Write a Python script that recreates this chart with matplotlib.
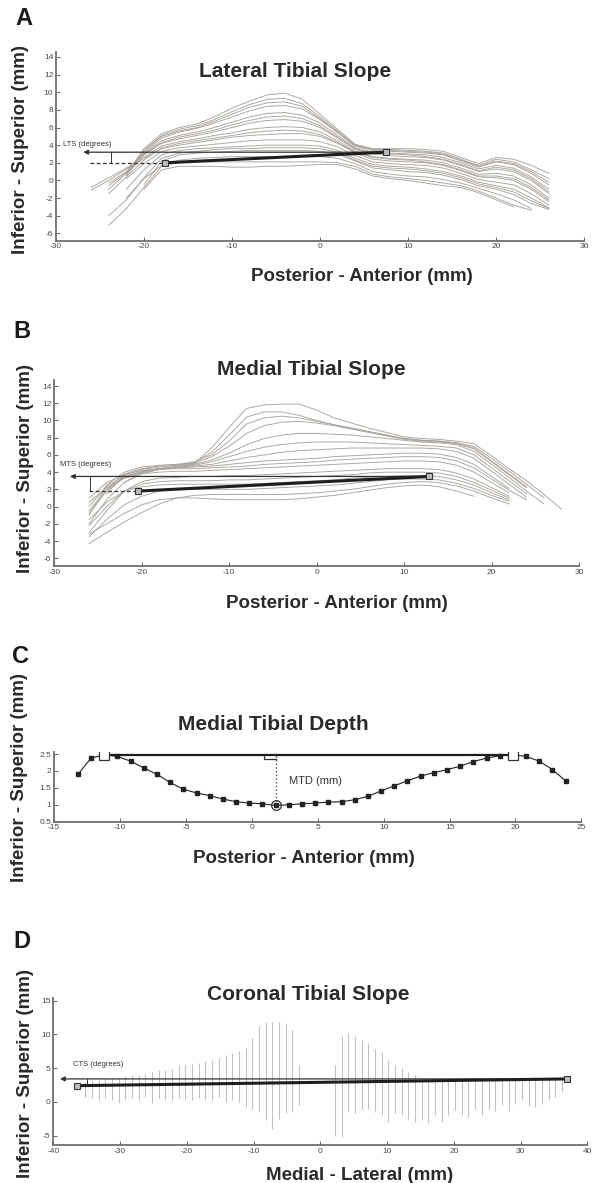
import numpy as np
import matplotlib
matplotlib.use("Agg")
import matplotlib.pyplot as plt

plt.rcParams['font.family'] = ['Liberation Sans', 'DejaVu Sans']
plt.rcParams['axes.unicode_minus'] = False

W, H = 594, 1183
nan = np.nan

# ---- A: lateral tibial slope, sagittal profiles (mm) ----
a_x = [-26, -24, -22, -20, -18, -16, -14, -12, -10, -8, -6, -4, -2, 0,
       2, 4, 6, 8, 10, 12, 14, 16, 18, 20, 22, 24, 26]
a_curves = [
    [nan, nan, 0.8, 3.6, 5.3, 6.0, 6.4, 7.2, 8.2, 9.0, 9.7, 9.9, 9.2, 7.5, 5.8, 4.1, 3.6, 3.6, 3.6, 3.5, 3.3, 2.6, 1.9, 2.6, 2.4, 1.7, 0.8],
    [nan, nan, 0.5, 3.4, 5.1, 5.8, 6.2, 6.9, 7.8, 8.6, 9.2, 9.3, 8.7, 7.2, 5.6, 4.0, 3.5, 3.5, 3.4, 3.3, 3.1, 2.4, 1.7, 2.4, 2.1, 1.2, 0.2],
    [nan, -0.3, 1.0, 3.3, 5.0, 5.6, 6.0, 6.7, 7.5, 8.3, 8.8, 8.9, 8.4, 7.0, 5.5, 3.9, 3.5, 3.4, 3.3, 3.2, 3.0, 2.3, 1.6, 2.2, 1.9, 1.0, -0.2],
    [nan, -1.0, 0.8, 3.1, 4.8, 5.5, 5.9, 6.5, 7.2, 7.9, 8.4, 8.5, 8.1, 6.9, 5.4, 3.9, 3.4, 3.3, 3.2, 3.1, 2.9, 2.2, 1.5, 2.1, 1.8, 0.8, -0.5],
    [nan, nan, 1.0, 3.0, 4.5, 5.1, 5.5, 6.0, 6.6, 7.2, 7.6, 7.7, 7.4, 6.5, 5.1, 3.7, 3.2, 3.1, 3.0, 2.9, 2.6, 2.0, 1.3, 1.7, 1.4, 0.4, -1.0],
    [nan, nan, 0.6, 2.9, 4.3, 4.9, 5.3, 5.7, 6.3, 6.8, 7.2, 7.3, 7.0, 6.2, 4.9, 3.6, 3.1, 3.0, 2.9, 2.7, 2.4, 1.8, 1.1, 1.5, 1.2, 0.2, -1.3],
    [-1.1, 0.0, 1.3, 2.9, 4.2, 4.7, 5.1, 5.5, 6.0, 6.5, 6.8, 6.9, 6.7, 6.0, 4.8, 3.5, 3.0, 2.8, 2.7, 2.6, 2.3, 1.7, 1.0, 1.3, 1.0, 0.0, -1.5],
    [nan, -0.6, 0.9, 2.6, 3.9, 4.4, 4.7, 5.1, 5.4, 5.8, 6.0, 6.1, 6.0, 5.5, 4.5, 3.3, 2.7, 2.5, 2.4, 2.3, 2.0, 1.4, 0.7, 0.8, 0.5, -0.5, -2.0],
    [nan, -1.5, 0.4, 2.3, 3.7, 4.2, 4.5, 4.8, 5.1, 5.4, 5.6, 5.7, 5.6, 5.2, 4.3, 3.2, 2.6, 2.4, 2.3, 2.1, 1.8, 1.2, 0.5, 0.5, 0.2, -0.8, -2.2],
    [-0.8, 0.3, 1.4, 2.5, 3.6, 4.0, 4.3, 4.6, 4.9, 5.1, 5.2, 5.3, 5.3, 5.0, 4.2, 3.1, 2.4, 2.2, 2.1, 2.0, 1.7, 1.1, 0.4, 0.3, 0.0, -1.0, -2.4],
    [nan, nan, 0.2, 1.9, 3.3, 3.7, 3.9, 4.1, 4.3, 4.5, 4.6, 4.6, 4.6, 4.4, 3.8, 2.8, 2.1, 1.9, 1.8, 1.7, 1.4, 0.8, 0.1, -0.2, -0.5, -1.5, -2.8],
    [nan, nan, -1.0, 1.2, 2.9, 3.4, 3.6, 3.7, 3.8, 3.9, 4.0, 4.0, 4.0, 3.9, 3.4, 2.5, 1.8, 1.6, 1.5, 1.3, 1.0, 0.5, -0.2, -0.6, -1.0, -2.0, -3.1],
    [nan, -4.0, -2.2, 0.3, 2.5, 3.1, 3.3, 3.5, 3.6, 3.6, 3.7, 3.7, 3.7, 3.6, 3.2, 2.3, 1.6, 1.4, 1.3, 1.1, 0.8, 0.3, -0.4, -0.8, -1.3, -2.3, -3.2],
    [nan, nan, nan, -0.5, 2.2, 2.9, 3.1, 3.2, 3.3, 3.4, 3.4, 3.4, 3.4, 3.3, 3.0, 2.2, 1.4, 1.2, 1.0, 0.9, 0.6, 0.1, -0.6, -1.0, -1.6, -2.6, -3.3],
    [nan, -5.1, -3.2, -0.8, 1.6, 2.3, 2.5, 2.6, 2.7, 2.7, 2.7, 2.7, 2.7, 2.7, 2.5, 1.9, 1.0, 0.7, 0.5, 0.4, 0.1, -0.3, -0.9, -1.5, -2.2, -3.2, nan],
    [nan, nan, -2.0, 0.2, 1.7, 2.0, 2.1, 2.1, 2.1, 2.1, 2.1, 2.1, 2.1, 2.1, 2.0, 1.6, 0.7, 0.4, 0.2, 0.0, -0.3, -0.6, -1.2, -2.0, -2.8, -3.4, nan],
    [nan, nan, nan, -1.0, 1.2, 1.6, 1.6, 1.6, 1.5, 1.5, 1.6, 1.6, 1.7, 1.8, 1.8, 1.3, 0.5, 0.2, 0.0, -0.3, -0.6, -0.8, -1.4, -2.2, -3.0, nan, nan],
]
a_post = (-17.6, 2.0)
a_ant = (7.5, 3.2)

# ---- B: medial tibial slope, sagittal profiles (mm) ----
b_x = [-26, -24, -22, -20, -18, -16, -14, -12, -10, -8, -6, -4, -2, 0,
       2, 4, 6, 8, 10, 12, 14, 16, 18, 20, 22, 24, 26, 28]
b_curves = [
    [-1.0, 2.5, 4.0, 4.6, 4.8, 4.9, 5.0, 6.8, 9.2, 11.4, 11.8, 11.9, 11.9, 11.2, 10.3, 9.7, 9.1, 8.6, 8.1, 7.9, 7.8, 7.6, 7.3, 5.9, 4.4, 3.0, 1.4, -0.3],
    [nan, 1.5, 3.6, 4.3, 4.6, 4.8, 5.1, 6.3, 8.3, 10.4, 11.0, 11.0, 10.6, 10.0, 9.5, 9.1, 8.7, 8.3, 7.9, 7.7, 7.6, 7.4, 7.0, 5.6, 4.1, 2.6, 1.0, nan],
    [nan, 2.0, 3.8, 4.4, 4.7, 4.9, 5.2, 6.0, 7.6, 9.6, 10.3, 10.5, 10.3, 9.9, 9.5, 9.1, 8.7, 8.3, 7.9, 7.7, 7.6, 7.4, 6.8, 5.3, 3.8, 2.3, nan, nan],
    [nan, nan, 2.8, 3.9, 4.4, 4.7, 5.0, 5.8, 7.0, 8.5, 9.4, 9.8, 9.9, 9.7, 9.4, 9.0, 8.6, 8.2, 7.8, 7.6, 7.5, 7.3, 6.7, 5.2, 3.7, 2.2, nan, nan],
    [-2.0, 0.8, 2.8, 3.8, 4.3, 4.6, 4.9, 5.4, 6.2, 7.2, 7.9, 8.3, 8.5, 8.5, 8.4, 8.3, 8.1, 7.9, 7.7, 7.5, 7.4, 7.2, 6.4, 4.9, 3.4, 1.8, 0.3, nan],
    [0.5, 2.2, 3.3, 4.0, 4.4, 4.6, 4.8, 5.2, 5.8, 6.4, 6.9, 7.2, 7.4, 7.5, 7.5, 7.5, 7.4, 7.3, 7.2, 7.1, 7.0, 6.8, 6.0, 4.5, 3.0, 1.5, nan, nan],
    [-0.8, 1.8, 3.4, 4.1, 4.4, 4.6, 4.7, 4.9, 5.3, 5.7, 6.0, 6.3, 6.5, 6.6, 6.7, 6.8, 6.8, 6.8, 6.8, 6.8, 6.7, 6.4, 5.6, 4.1, 2.6, 1.1, nan, nan],
    [0.0, 2.4, 3.5, 4.0, 4.3, 4.4, 4.4, 4.5, 4.6, 4.7, 4.9, 5.0, 5.1, 5.2, 5.4, 5.5, 5.6, 5.7, 5.8, 5.8, 5.7, 5.3, 4.5, 3.2, 1.9, 0.8, nan, nan],
    [1.0, 2.8, 3.7, 4.2, 4.4, 4.5, 4.6, 4.7, 4.9, 5.1, 5.3, 5.4, 5.5, 5.6, 5.8, 5.9, 6.0, 6.1, 6.2, 6.2, 6.1, 5.7, 4.9, 3.5, 2.1, nan, nan, nan],
    [-0.5, 2.0, 3.3, 3.8, 4.0, 4.1, 4.1, 4.2, 4.3, 4.4, 4.5, 4.6, 4.7, 4.8, 4.9, 5.0, 5.1, 5.2, 5.3, 5.3, 5.2, 4.8, 4.0, 2.8, 1.6, nan, nan, nan],
    [-3.0, -0.5, 1.8, 2.9, 3.3, 3.4, 3.5, 3.5, 3.6, 3.6, 3.7, 3.8, 3.9, 4.0, 4.1, 4.2, 4.3, 4.4, 4.4, 4.4, 4.3, 3.9, 3.2, 2.2, 1.2, nan, nan, nan],
    [-2.2, 0.0, 1.8, 2.6, 2.9, 3.0, 3.0, 3.0, 3.1, 3.1, 3.2, 3.3, 3.4, 3.5, 3.6, 3.7, 3.9, 4.0, 4.0, 4.0, 3.9, 3.5, 2.8, 1.9, 1.0, nan, nan, nan],
    [-1.5, 0.5, 1.8, 2.3, 2.5, 2.6, 2.6, 2.6, 2.6, 2.6, 2.7, 2.8, 2.9, 3.0, 3.1, 3.3, 3.4, 3.5, 3.6, 3.6, 3.5, 3.1, 2.5, 1.6, 0.8, nan, nan, nan],
    [-3.5, -1.5, 0.2, 1.2, 1.8, 2.0, 2.0, 2.0, 2.0, 2.0, 2.1, 2.2, 2.3, 2.4, 2.5, 2.7, 2.9, 3.1, 3.2, 3.2, 3.1, 2.7, 2.1, 1.3, 0.6, nan, nan, nan],
    [-4.3, -3.0, -1.8, -0.7, 0.3, 1.0, 1.3, 1.4, 1.4, 1.4, 1.4, 1.4, 1.5, 1.6, 1.8, 2.0, 2.3, 2.6, 2.8, 2.9, 2.8, 2.4, 1.8, 1.0, 0.3, nan, nan, nan],
    [-3.2, -2.0, -0.8, 0.2, 0.8, 1.0, 1.0, 0.9, 0.8, 0.8, 0.8, 0.8, 0.9, 1.1, 1.3, 1.6, 1.9, 2.2, 2.4, 2.5, 2.3, 1.8, 1.2, nan, nan, nan, nan, nan],
]
b_post = (-20.4, 1.8)
b_ant = (12.9, 3.5)

# ---- C: medial tibial depth (mm) ----
c_x = [-13.2, -12.2, -11.2, -10.2, -9.2, -8.2, -7.2, -6.2, -5.2, -4.2, -3.2,
       -2.2, -1.2, -0.2, 0.8, 1.8, 2.8, 3.8, 4.8, 5.8, 6.8, 7.8, 8.8, 9.8,
       10.8, 11.8, 12.8, 13.8, 14.8, 15.8, 16.8, 17.8, 18.8, 19.8, 20.8,
       21.8, 22.8, 23.8]
c_y = [1.90, 2.38, 2.48, 2.43, 2.29, 2.09, 1.90, 1.66, 1.46, 1.35, 1.27,
       1.17, 1.09, 1.05, 1.03, 0.98, 1.00, 1.03, 1.05, 1.08, 1.09, 1.15,
       1.25, 1.41, 1.56, 1.71, 1.85, 1.95, 2.04, 2.14, 2.28, 2.38, 2.45,
       2.48, 2.43, 2.29, 2.04, 1.71]
c_rim_idx = (2, 33)
c_low_idx = 15

# ---- D: coronal tibial slope, range per coronal slice (mm) ----
d_x = [-35.2, -34.2, -33.2, -32.2, -31.2, -30.2, -29.2, -28.2, -27.2, -26.2,
       -25.2, -24.2, -23.2, -22.2, -21.2, -20.2, -19.2, -18.2, -17.2, -16.2,
       -15.2, -14.2, -13.2, -12.2, -11.2, -10.2, -9.2, -8.2, -7.2, -6.2,
       -5.2, -4.2, -3.2,
       2.2, 3.2, 4.2, 5.2, 6.2, 7.2, 8.2, 9.2, 10.2, 11.2, 12.2, 13.2, 14.2,
       15.2, 16.2, 17.2, 18.2, 19.2, 20.2, 21.2, 22.2, 23.2, 24.2, 25.2,
       26.2, 27.2, 28.2, 29.2, 30.2, 31.2, 32.2, 33.2, 34.2, 35.2, 36.2]
d_top = [3.0, 3.2, 3.3, 3.5, 3.6, 3.6, 3.8, 4.0, 4.0, 4.2, 4.5, 4.7, 4.7,
         4.8, 5.5, 5.5, 5.6, 5.8, 6.0, 6.2, 6.5, 7.0, 7.3, 7.5, 8.0, 9.4,
         11.2, 11.9, 11.9, 11.8, 11.7, 10.7, 5.5,
         5.5, 9.7, 10.2, 9.7, 9.2, 8.7, 7.9, 7.4, 6.2, 5.5, 5.0, 4.5, 4.0,
         3.5, 3.5, 3.2, 3.2, 3.2, 3.3, 3.2, 3.2, 3.3, 3.5, 3.6, 3.6, 3.6,
         3.6, 3.6, 3.6, 3.5, 3.7, 3.6, 3.6, 3.5, 3.2]
d_bottom = [0.7, 0.5, 0.2, 0.5, 0.2, -0.1, 0.2, 0.5, 0.2, 0.7, -0.2, 0.5,
            0.2, 0.2, 0.5, 0.2, 0.2, 0.5, 0.2, 0.2, 0.7, 0.0, 0.2, 0.0, -0.8,
            -1.0, -1.5, -2.7, -4.0, -2.5, -1.7, -1.5, -0.5,
            -5.0, -5.2, -1.5, -1.7, -1.0, -1.0, -1.5, -2.0, -3.0, -1.7, -2.0,
            -2.5, -3.0, -2.7, -3.2, -2.0, -3.0, -2.0, -1.2, -2.0, -2.2, -1.0,
            -2.0, -1.0, -1.3, -0.5, -1.3, -0.3, 0.2, -0.5, -0.8, -0.3, 0.2,
            0.7, 1.5]
d_med = (-36.4, 2.4)
d_lat = (36.9, 3.4)

CURVE = '#a9a39d'
DARK = '#1e1e1e'
AXC = '#6e6e6e'


def px_rect(left, top, right, bottom):
    return [left / W, 1 - bottom / H, (right - left) / W, (bottom - top) / H]


def fig_text(fig, x, y, s, **kw):
    fig.text(x / W, 1 - y / H, s, ha='center', va='center', **kw)


def style(ax, xlim, ylim, xt, yt, ytl=None):
    ax.set_xlim(xlim)
    ax.set_ylim(ylim)
    for s in ('top', 'right'):
        ax.spines[s].set_visible(False)
    for s in ('left', 'bottom'):
        ax.spines[s].set_color(AXC)
        ax.spines[s].set_linewidth(1.3)
    ax.set_xticks(xt)
    ax.set_yticks(yt)
    if ytl is not None:
        ax.set_yticklabels(ytl)
    ax.tick_params(direction='in', length=3, width=0.8, colors=AXC,
                   labelsize=6, labelcolor='#4a4a4a', pad=2)
    ax.patch.set_alpha(0)


def angle_marks(ax, p0, p1, tip_x, dash_x, bar_x, label, label_xy):
    # horizontal reference line with arrow, pointing posterior
    ax.annotate('', xy=(tip_x, p1[1]), xytext=(p1[0], p1[1]),
                arrowprops=dict(arrowstyle='-|>', color='#333333', lw=0.9,
                                mutation_scale=7, shrinkA=0, shrinkB=0))
    ax.plot([dash_x, p0[0]], [p0[1], p0[1]], ls=(0, (3, 2)), color='#333333', lw=0.9)
    ax.plot([bar_x, bar_x], [p0[1], p1[1]], color='#333333', lw=0.7)
    ax.plot([p0[0], p1[0]], [p0[1], p1[1]], color=DARK, lw=2.2, zorder=4)
    ax.plot([p0[0], p1[0]], [p0[1], p1[1]], 's', ms=5, mfc='#bdbdbd',
            mec='#333333', mew=0.8, zorder=5)
    ax.text(label_xy[0], label_xy[1], label, fontsize=5.5, color='#333333',
            va='bottom')


fig = plt.figure(figsize=(W / 100, H / 100), dpi=100)

# Panel A
axA = fig.add_axes(px_rect(56, 51.7, 584, 240.7))
for c in a_curves:
    axA.plot(a_x, c, color=CURVE, lw=0.65, zorder=1)
angle_marks(axA, a_post, a_ant, -26.9, -26.1, -23.7, 'LTS (degrees)', (-29.2, 3.7))
style(axA, (-30, 30), (-6.84, 14.6), range(-30, 31, 10), range(-6, 15, 2))

# Panel B
axB = fig.add_axes(px_rect(54.2, 380, 579, 566))
for c in b_curves:
    axB.plot(b_x, c, color=CURVE, lw=0.65, zorder=1)
angle_marks(axB, b_post, b_ant, -28.2, -26.0, -25.9, 'MTS (degrees)', (-29.3, 4.5))
style(axB, (-30, 30), (-6.9, 14.7), range(-30, 31, 10), range(-6, 15, 2))

# Panel C
axC = fig.add_axes(px_rect(54.2, 751.7, 581.4, 821.7))
axC.plot(c_x, c_y, color='#222222', lw=0.8, marker='s', ms=3, zorder=2)
r0, r1 = c_rim_idx
rim_y = c_y[r0]
axC.plot([c_x[r0], c_x[r1]], [rim_y, rim_y], color=DARK, lw=1.6, zorder=3)
axC.plot([c_x[r0], c_x[r1]], [c_y[r0], c_y[r1]], 's', ms=6.5, mfc='white',
         mec='#333333', mew=0.9, zorder=4)
lx, ly = c_x[c_low_idx], c_y[c_low_idx]
axC.plot([lx, lx], [ly, rim_y], ls=':', color='#444444', lw=1.0, zorder=3)
axC.plot([lx - 0.9, lx - 0.9, lx], [rim_y, rim_y - 0.14, rim_y - 0.14],
         color='#333333', lw=0.9, zorder=3)
axC.plot([lx], [ly], 'o', ms=7, mfc='none', mec='#333333', mew=0.9, zorder=4)
axC.text(lx + 1.0, 1.70, 'MTD (mm)', fontsize=8, color='#333333', va='center')
style(axC, (-15, 25), (0.5, 2.57), range(-15, 26, 5), [0.5, 1, 1.5, 2, 2.5],
      ['0.5', '1', '1.5', '2', '2.5'])

# Panel D
axD = fig.add_axes(px_rect(53.3, 998, 587.3, 1145))
axD.vlines(d_x, d_bottom, d_top, color='#c4c1bd', lw=0.8, zorder=1)
angle_marks(axD, d_med, d_lat, -39.0, d_med[0], -35.0, 'CTS (degrees)', (-37.0, 5.0))
style(axD, (-40, 40), (-6.4, 15.4), range(-40, 41, 10), range(-5, 16, 5))

# titles, axis labels, panel letters
tkw = dict(fontsize=15, fontweight='bold', color='#2a2a2a')
fig_text(fig, 294.6, 71.7, 'Lateral Tibial Slope', **tkw)
fig_text(fig, 311.6, 370, 'Medial Tibial Slope', **tkw)
fig_text(fig, 273.7, 725, 'Medial Tibial Depth', **tkw)
fig_text(fig, 307.8, 995, 'Coronal Tibial Slope', **tkw)

lkw = dict(fontsize=13.5, fontweight='bold', color='#2a2a2a')
fig_text(fig, 361.7, 276.7, 'Posterior - Anterior (mm)', **lkw)
fig_text(fig, 337, 603.3, 'Posterior - Anterior (mm)', **lkw)
fig_text(fig, 304, 858.3, 'Posterior - Anterior (mm)', **lkw)
fig_text(fig, 360, 1175, 'Medial - Lateral (mm)', **lkw)
for x, y in [(20.5, 149), (25.6, 468.3), (20, 777), (25.6, 1073)]:
    fig_text(fig, x, y, 'Inferior - Superior (mm)', rotation=90, **lkw)

pkw = dict(fontsize=17, fontweight='bold', color='#1a1a1a')
for s, x, y in [('A', 24, 18.5), ('B', 22, 331.7), ('C', 20.5, 656.7), ('D', 21.5, 941.7)]:
    fig_text(fig, x, y, s, **pkw)

fig.savefig('out.png', dpi=100)
